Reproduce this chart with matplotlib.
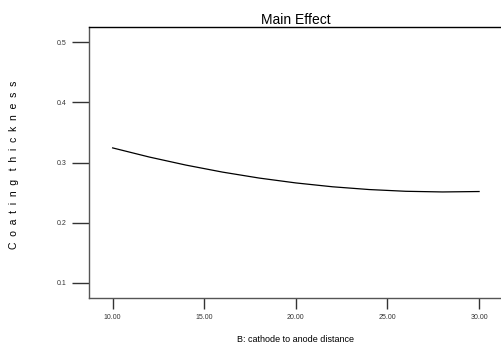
import numpy as np
import matplotlib
matplotlib.use("Agg")
import matplotlib.pyplot as plt

# data
distance = [10, 12, 14, 16, 18, 20, 22, 24, 26, 28, 30]
thickness = [0.3243, 0.3091, 0.2957, 0.2840, 0.2741, 0.2660,
             0.2596, 0.2550, 0.2521, 0.2510, 0.2517]
xticks = [10, 15, 20, 25, 30]
yticks = [0.1, 0.2, 0.3, 0.4, 0.5]

plt.rcParams['font.family'] = ['Liberation Sans', 'DejaVu Sans']

fig = plt.figure(figsize=(5.02, 3.54), dpi=100)
ax = fig.add_axes([0.1773, 0.159, 0.8227, 0.7656])

ax.plot(distance, thickness, color='black', lw=0.9)

ax.set_xlim(8.71, 31.25)
ax.set_ylim(0.075, 0.526)
ax.set_xticks(xticks)
ax.set_xticklabels(['%.2f' % v for v in xticks])
ax.set_yticks(yticks)
ax.set_yticklabels(['%.1f' % v for v in yticks])

ax.spines['right'].set_visible(False)
ax.spines['top'].set_color('black')
ax.spines['top'].set_linewidth(1.0)
for s in ('left', 'bottom'):
    ax.spines[s].set_color('#555555')
    ax.spines[s].set_linewidth(1.0)

ax.tick_params(axis='y', direction='out', length=12, width=1, color='#333333',
               labelsize=5, labelcolor='#333333', pad=4)
ax.tick_params(axis='x', direction='out', length=8, width=1, color='#333333',
               labelsize=5, labelcolor='#333333', pad=4)

ax.set_title('Main Effect', fontsize=10, pad=2)
ax.set_xlabel('B: cathode to anode distance', fontsize=6.5, labelpad=10)
ylab = '   '.join('  '.join(w) for w in 'Coating thickness'.split())
fig.text(0.028, 0.534, ylab, rotation=90,
         fontsize=7.5, ha='center', va='center')

fig.savefig('out.png', dpi=100)
